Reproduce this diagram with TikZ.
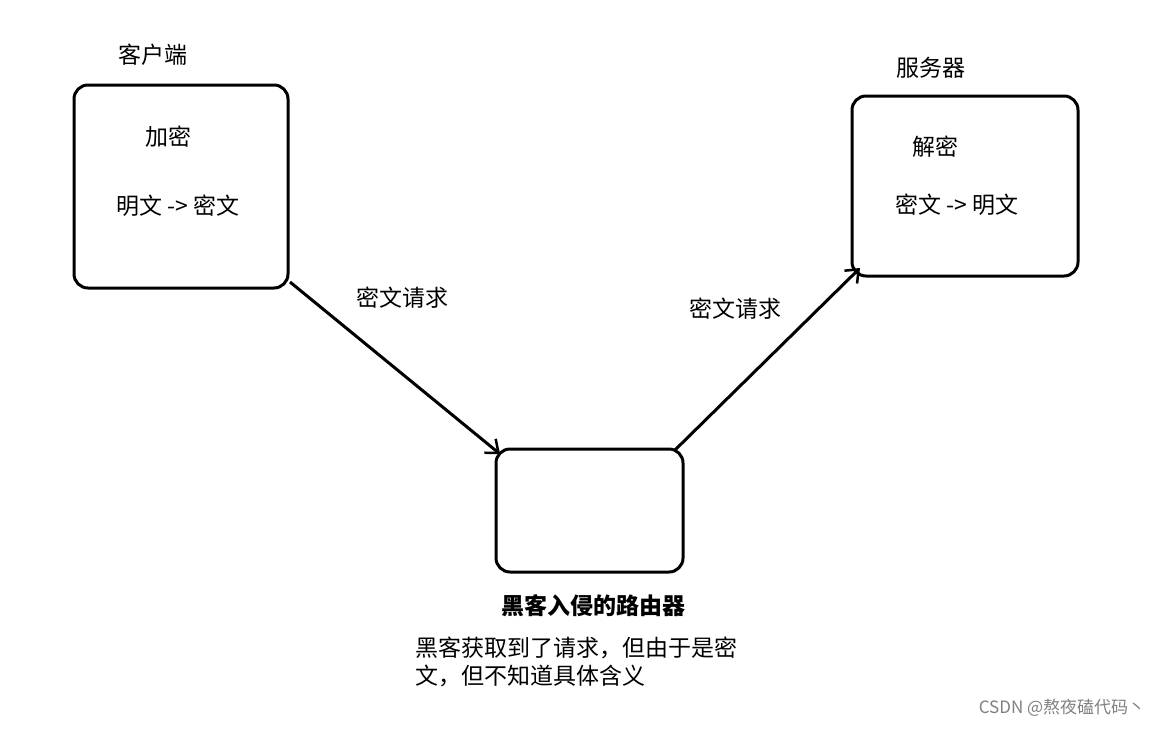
\documentclass[tikz,border=0pt]{standalone}
\usepackage{fontspec}
\setmainfont{Noto Sans CJK SC}
\usetikzlibrary{positioning,arrows.meta}

\tikzset{
  box/.style={draw, line width=3pt, rounded corners=14pt, inner sep=0pt},
  lab/.style={font=\fontsize{23}{28}\selectfont},
  conn/.style={line width=3pt, -{Straight Barb[length=11pt,width=18pt,line width=2.5pt]}}
}

\begin{document}
\begin{tikzpicture}[x=1pt,y=-1pt]
  \useasboundingbox (0,0) rectangle (1166,728);
  % boxes
  \node[box, minimum width=214pt, minimum height=203pt] (client) at (181,186.5) {};
  \node[box, minimum width=226pt, minimum height=180pt] (server) at (965,186) {};
  \node[box, minimum width=187pt, minimum height=123pt] (router) at (589.5,510.5) {};
  \coordinate (cout) at (290,282);
  \coordinate (rin) at (500,454);
  \coordinate (rout) at (675,450);
  \coordinate (sin) at (860,268);
  % titles
  \node[lab] (ctitle) at (153,55) {客户端};
  \node[lab] (stitle) at (931,68) {服务器};
  \node[lab, font=\fontsize{23}{28}\selectfont\bfseries] (rtitle) at (593,606) {黑客入侵的路由器};
  % box contents
  \node[lab] (enc) at (168,137) {加密};
  \node[lab] (encflow) at (178,206) {明文 -> 密文};
  \node[lab] (dec) at (935,147) {解密};
  \node[lab] (decflow) at (957,205) {密文 -> 明文};
  % connectors
  \draw[conn] (cout) -- (rin);
  \draw[conn] (rout) -- (sin);
  \node[lab] (req1) at (402,298) {密文请求};
  \node[lab] (req2) at (735,309) {密文请求};
  % note
  \node[lab, anchor=north west, align=left, inner sep=0pt] (note) at (415,637)
    {黑客获取到了请求，但由于是密\\文，但不知道具体含义};
  \node[font=\fontsize{17}{20}\selectfont, text=gray] (mark) at (1062,708) {CSDN @熬夜磕代码丶};
\end{tikzpicture}
\end{document}
